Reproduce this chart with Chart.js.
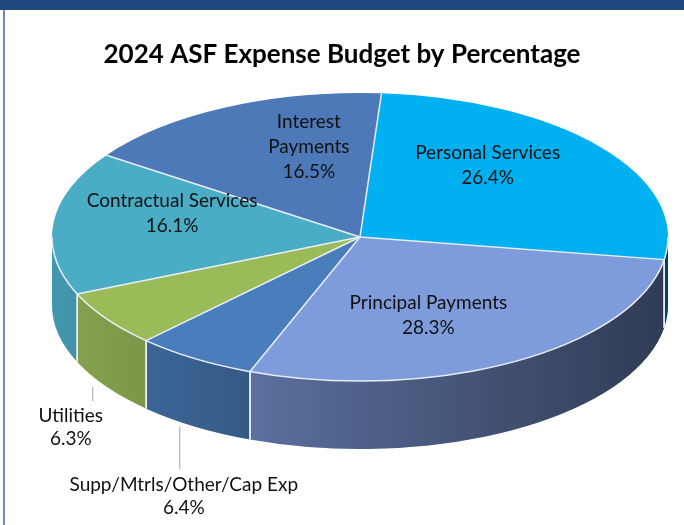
<!DOCTYPE html>
<html>
<head>
<meta charset="utf-8">
<script src="https://cdn.jsdelivr.net/npm/chart.js@4.4.1/dist/chart.umd.min.js"></script>
<style>
    html, body { margin: 0; padding: 0; background: #fff; }
    #wrap { position: relative; width: 684px; height: 525px; overflow: hidden; }
    #moldura { position: absolute; left: 0; top: 0; width: 684px; height: 525px; box-sizing: border-box; border-top: 10px solid #1F497D; }
    #moldura:before { content: ""; position: absolute; left: 3px; top: 0; bottom: 0; width: 2px; background: #7089B3; }
    canvas { position: absolute; left: 0; top: 0; }
</style>
</head>
<body>
<div id="wrap">
    <div id="moldura"></div>
    <canvas id="graficoDespesas" width="684" height="525"></canvas>
</div>
<script>
// --- dados do gráfico ---
const categorias = ['Personal Services', 'Principal Payments', 'Supp/Mtrls/Other/Cap Exp', 'Utilities', 'Contractual Services', 'Interest Payments'];
const linhasRotulo = [['Personal Services'], ['Principal Payments'], ['Supp/Mtrls/Other/Cap Exp'], ['Utilities'], ['Contractual Services'], ['Interest', 'Payments']];
const percentuais = [26.4, 28.3, 6.4, 6.3, 16.1, 16.5];

const cores = ['#00B0F0', '#7E9BDB', '#4A7DBB', '#9BBB59', '#4BACC6', '#4E79B9'];
const FONTE = 'Lato, "Open Sans", sans-serif';

// geometria da "pizza 3D" (elipse de topo + lateral)
const GEO = { cx: 360, cy: 237, rx: 308, ry: 144, depth: 68 };

// rótulos: dentro da fatia (ajuste fino) ou fora com linha guia
const ajusteRotulo = {
    0: { dx: -17, dy: 0 },
    1: { dx: -24, dy: 22 },
    4: { dx: -4, dy: 3 },
    5: { dx: 29, dy: 6 }
};
const rotuloExterno = {
    2: { dx: -15, drop: 43, textDx: 4 },
    3: { dx: -14, drop: 14, textDx: -22 }
};

const ponto = (a, dy = 0) => ({
    x: GEO.cx + GEO.rx * Math.cos(a),
    y: GEO.cy + GEO.ry * Math.sin(a) + dy
});

const pizza3d = {
    id: 'pizza3d',
    beforeDatasetsDraw(chart) {
        const ctx = chart.ctx;
        const arcs = chart.getDatasetMeta(0).data;

        // lateral (parte da frente, ângulos entre 0 e PI)
        const grad = ctx.createLinearGradient(GEO.cx - GEO.rx, 0, GEO.cx + GEO.rx, 0);
        grad.addColorStop(0, 'rgba(0,0,0,0.12)');
        grad.addColorStop(1, 'rgba(0,0,0,0.62)');
        const bordas = [];
        arcs.forEach((arc, i) => {
            const a0 = arc.startAngle, a1 = arc.endAngle;
            for (let k = -1; k <= 1; k++) {
                const lo = Math.max(a0, 2 * Math.PI * k);
                const hi = Math.min(a1, 2 * Math.PI * k + Math.PI);
                if (hi <= lo) continue;
                ctx.save();
                ctx.beginPath();
                ctx.ellipse(GEO.cx, GEO.cy, GEO.rx, GEO.ry, 0, lo, hi);
                const pb = ponto(hi, GEO.depth);
                ctx.lineTo(pb.x, pb.y);
                ctx.ellipse(GEO.cx, GEO.cy + GEO.depth, GEO.rx, GEO.ry, 0, hi, lo, true);
                ctx.closePath();
                ctx.fillStyle = cores[i];
                ctx.fill();
                ctx.fillStyle = grad;
                ctx.fill();
                ctx.restore();
                if (lo === a0) bordas.push(lo);
                if (hi === a1) bordas.push(hi);
            }
        });
        ctx.save();
        ctx.strokeStyle = '#E8EEF7';
        ctx.lineWidth = 1.5;
        bordas.forEach(a => {
            const p = ponto(a), q = ponto(a, GEO.depth);
            ctx.beginPath();
            ctx.moveTo(p.x, p.y);
            ctx.lineTo(q.x, q.y);
            ctx.stroke();
        });
        ctx.restore();

        // topo: as fatias do Chart.js achatadas numa elipse
        const a = arcs[0];
        const R = a.outerRadius;
        ctx.save();
        ctx.translate(GEO.cx, GEO.cy);
        ctx.scale(GEO.rx / R, GEO.ry / R);
        ctx.translate(-a.x, -a.y);
    },
    afterDatasetsDraw(chart) {
        const ctx = chart.ctx;
        ctx.restore();
        const arcs = chart.getDatasetMeta(0).data;

        // linhas brancas entre fatias e borda frontal
        ctx.save();
        ctx.strokeStyle = '#E8EEF7';
        ctx.lineWidth = 1.5;
        arcs.forEach(arc => {
            const p = ponto(arc.startAngle);
            ctx.beginPath();
            ctx.moveTo(GEO.cx, GEO.cy);
            ctx.lineTo(p.x, p.y);
            ctx.stroke();
        });
        ctx.beginPath();
        ctx.ellipse(GEO.cx, GEO.cy, GEO.rx, GEO.ry, 0, 0, Math.PI);
        ctx.stroke();
        ctx.restore();

        // rótulos
        ctx.save();
        ctx.font = '19px ' + FONTE;
        ctx.fillStyle = '#111';
        ctx.textAlign = 'center';
        ctx.textBaseline = 'middle';
        const alturaLinha = 25;
        arcs.forEach((arc, i) => {
            const meio = (arc.startAngle + arc.endAngle) / 2;
            const linhas = [...linhasRotulo[i], percentuais[i].toFixed(1) + '%'];
            if (rotuloExterno[i]) {
                const cfg = rotuloExterno[i];
                const p = ponto(meio, GEO.depth);
                const x = p.x + cfg.dx;
                ctx.strokeStyle = '#A6A6A6';
                ctx.lineWidth = 1;
                ctx.beginPath();
                ctx.moveTo(x, p.y);
                ctx.lineTo(x, p.y + cfg.drop);
                ctx.stroke();
                const y0 = p.y + cfg.drop + 15;
                linhas.forEach((t, j) => ctx.fillText(t, x + cfg.textDx, y0 + j * 23));
            } else {
                const aj = ajusteRotulo[i] || { dx: 0, dy: 0 };
                const x = GEO.cx + 0.6 * GEO.rx * Math.cos(meio) + aj.dx;
                const y = GEO.cy - 18 + 0.6 * GEO.ry * Math.sin(meio) + aj.dy;
                const y0 = y - (linhas.length - 1) * alturaLinha / 2;
                linhas.forEach((t, j) => ctx.fillText(t, x, y0 + j * alturaLinha));
            }
        });
        ctx.restore();
    }
};

const ctxDespesas = document.getElementById('graficoDespesas');
new Chart(ctxDespesas, {
    type: 'pie',
    data: {
        labels: categorias,
        datasets: [{
            data: percentuais,
            backgroundColor: cores,
            borderWidth: 0
        }]
    },
    options: {
        responsive: false,
        animation: false,
        devicePixelRatio: 1,
        rotation: 4,
        events: [],
        plugins: {
            legend: { display: false },
            tooltip: { enabled: false },
            title: {
                display: true,
                text: '2024 ASF Expense Budget by Percentage',
                color: '#000',
                font: { family: FONTE, size: 26, weight: 'bold' },
                padding: { top: 39, bottom: 10 }
            }
        }
    },
    plugins: [pizza3d]
});
</script>
</body>
</html>
